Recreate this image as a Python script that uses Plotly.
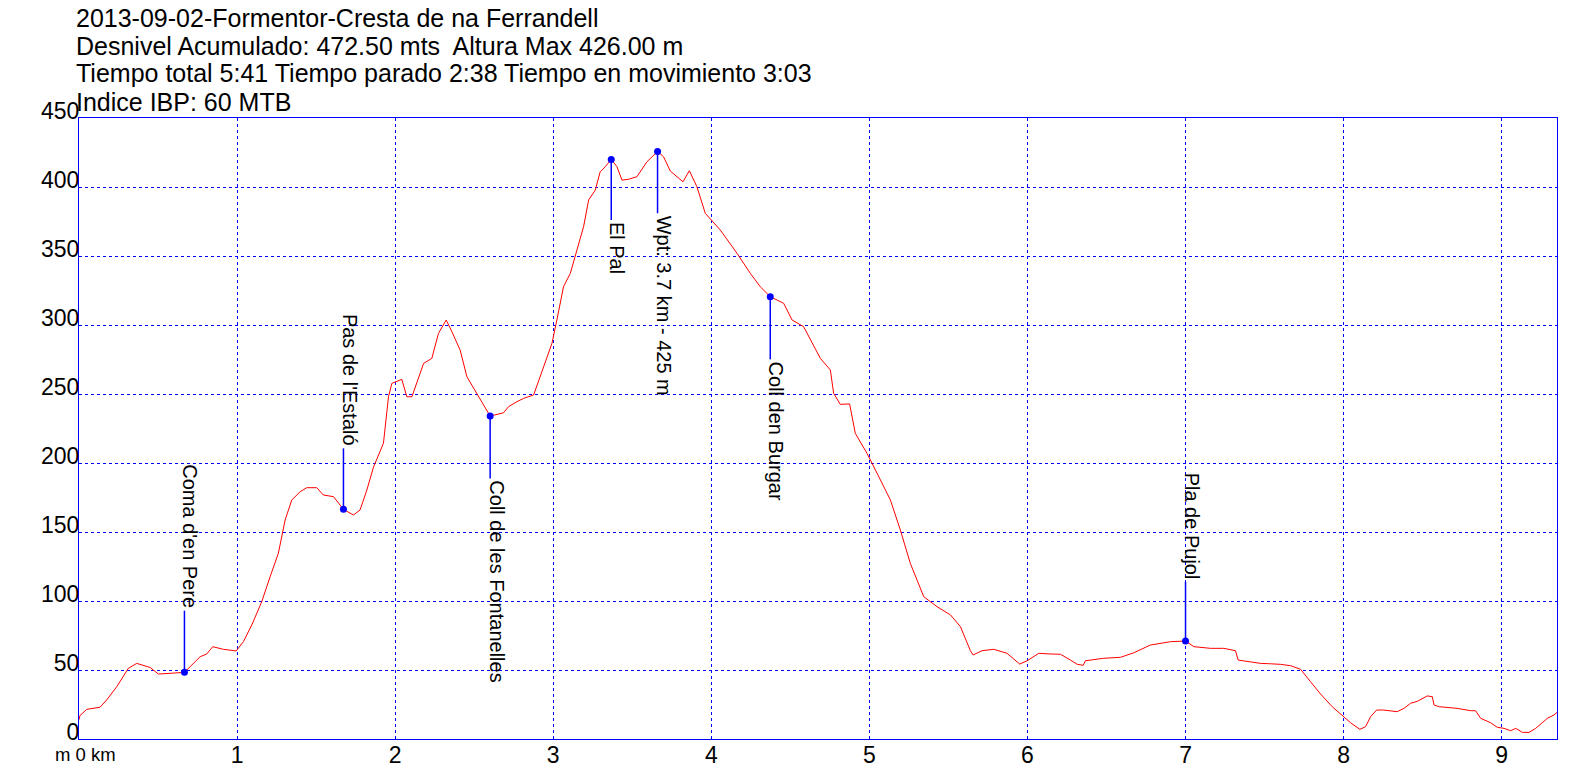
import plotly.graph_objects as go

# Profile data (distance in km, elevation in m)
dist_km = [0.0, 0.006, 0.049, 0.133, 0.175, 0.239, 0.312, 0.365, 0.449, 0.502, 0.576, 0.667,
           0.766, 0.808, 0.846, 0.913, 0.994, 1.04, 1.093, 1.156, 1.209, 1.261, 1.304, 1.346,
           1.399, 1.441, 1.504, 1.546, 1.61, 1.673, 1.736, 1.778, 1.821, 1.863, 1.926, 1.958,
           1.979, 2.042, 2.074, 2.106, 2.18, 2.232, 2.274, 2.323, 2.359, 2.411, 2.454, 2.517,
           2.559, 2.601, 2.686, 2.717, 2.77, 2.812, 2.876, 2.939, 2.992, 3.023, 3.065, 3.108,
           3.15, 3.192, 3.224, 3.266, 3.297, 3.329, 3.367, 3.403, 3.435, 3.477, 3.53, 3.593,
           3.66, 3.698, 3.741, 3.821, 3.861, 3.909, 3.962, 4.057, 4.163, 4.247, 4.31, 4.373,
           4.458, 4.511, 4.584, 4.648, 4.69, 4.753, 4.774, 4.816, 4.875, 4.911, 4.985, 5.07,
           5.133, 5.196, 5.259, 5.344, 5.428, 5.513, 5.576, 5.639, 5.656, 5.713, 5.787, 5.871,
           5.951, 5.998, 6.072, 6.146, 6.209, 6.272, 6.315, 6.353, 6.367, 6.483, 6.589, 6.673,
           6.778, 6.905, 7.0, 7.053, 7.158, 7.242, 7.316, 7.333, 7.411, 7.475, 7.538, 7.601,
           7.665, 7.728, 7.791, 7.854, 7.928, 7.991, 8.044, 8.103, 8.139, 8.171, 8.209, 8.251,
           8.339, 8.382, 8.424, 8.466, 8.529, 8.561, 8.572, 8.606, 8.719, 8.804, 8.835, 8.867,
           8.93, 8.972, 9.015, 9.057, 9.089, 9.131, 9.173, 9.215, 9.289, 9.331, 9.35]
elev_m = [14, 17, 21.5, 23, 28.3, 37.9, 51.2, 54.8, 51.9, 47.1, 47.6, 48.3,
          59.6, 61.6, 66.9, 65, 63.8, 70.5, 82.6, 99.5, 117.6, 134.5, 158.7, 173.2,
          179.2, 182.1, 182.1, 176.8, 175.6, 166.4, 162.3, 165.9, 180.4, 197, 214.3, 248,
          257.7, 260.6, 248, 248, 272.2, 275.8, 293.9, 303.6, 295.1, 281.9, 262.5, 250.5,
          242, 234, 236.4, 240.8, 244.4, 246.8, 249.3, 269.8, 286.7, 303.6, 327.7, 337.4,
          354.3, 371.2, 390.6, 397.8, 411, 414.7, 420, 414.7, 405, 405.6, 407.5, 418.3,
          425.8, 421.9, 411.5, 403.8, 411.8, 400.2, 380.9, 368.8, 351.9, 337.4, 327.7, 320.5,
          315.7, 303.6, 298.8, 284.3, 275.8, 267.4, 250.5, 242.5, 242.8, 221.5, 207, 187.7,
          173.2, 151.4, 127.3, 103.1, 95.9, 89.9, 81.4, 64, 60.9, 64, 65, 62.1,
          54.3, 56.7, 62.1, 61.6, 61.4, 57.2, 54.1, 53.4, 56.7, 58.5, 59.2, 62.5,
          68.1, 70.5, 71, 66.9, 65.7, 65.7, 64, 57.2, 56, 54.8, 54.5, 54.1,
          53.1, 50.5, 41.5, 32.6, 23.4, 16.7, 11.8, 7, 8.9, 16.2, 21, 21,
          19.8, 22.2, 25.9, 27.3, 31.2, 30.7, 24.6, 23.4, 22.2, 20.5, 20.5, 15,
          11.8, 8.5, 7.7, 6, 7.7, 4.8, 4.8, 7.7, 15, 17.4, 19.3]

# Waypoints
wp_names = ["Coma d'en Pere", "Pas de l'Estaló", "Coll de les Fontanelles", "El Pal",
            "Wpt: 3.7 km - 425 m", "Coll den Burgar", "Pla de Pujol"]
wp_km = [0.667, 1.673, 2.601, 3.367, 3.66, 4.373, 7.0]
wp_elev = [48.3, 166.4, 234, 420, 425.8, 320.5, 71]
wp_label_elev = [93, 210.6, 188.8, 376, 381, 275.1, 114]

title_lines = ["2013-09-02-Formentor-Cresta de na Ferrandell",
               "Desnivel Acumulado: 472.50 mts  Altura Max 426.00 m",
               "Tiempo total 5:41 Tiempo parado 2:38 Tiempo en movimiento 3:03",
               "Indice IBP: 60 MTB"]

y_ticks = [0, 50, 100, 150, 200, 250, 300, 350, 400, 450]
x_ticks = [1, 2, 3, 4, 5, 6, 7, 8, 9]

FONT = "Liberation Sans, Arial, sans-serif"
BLUE = "#0000FF"

fig = go.Figure()

fig.add_trace(go.Scatter(x=dist_km, y=elev_m, mode="lines",
                         line=dict(color="#FF0000", width=1), hoverinfo="skip"))

for k, e, le in zip(wp_km, wp_elev, wp_label_elev):
    fig.add_trace(go.Scatter(x=[k, k], y=[e, le], mode="lines",
                             line=dict(color=BLUE, width=1.5), hoverinfo="skip"))

fig.add_trace(go.Scatter(x=wp_km, y=wp_elev, mode="markers",
                         marker=dict(color=BLUE, size=7), hoverinfo="skip"))

annotations = []
for name, k, e, le in zip(wp_names, wp_km, wp_elev, wp_label_elev):
    up = le > e
    annotations.append(dict(
        x=k, y=le, xref="x", yref="y", text=name, showarrow=False,
        textangle=90, xanchor="center", yanchor="bottom" if up else "top",
        xshift=6, font=dict(family=FONT, size=20, color="black")))

# plot area: 621 px tall, bottom at page y 739
title_y_px = [18, 45.8, 73.3, 101.8]
for line, ypx in zip(title_lines, title_y_px):
    annotations.append(dict(
        x=0, y=(739 - ypx) / 621, xref="paper", yref="paper", text=line,
        showarrow=False, xanchor="left", yanchor="middle", xshift=-4, borderpad=0,
        font=dict(family=FONT, size=25, color="black")))

annotations.append(dict(
    x=0, y=(739 - 755) / 621, xref="paper", yref="paper", text="m 0 km",
    showarrow=False, xanchor="left", yanchor="middle", xshift=-26,
    font=dict(family=FONT, size=18.5, color="black")))

# The page body adds an 8 px offset; the figure is sized so the page is 1596x778.
fig.update_layout(
    width=1580, height=762,
    margin=dict(l=71, r=31, t=110, b=31, autoexpand=False),
    plot_bgcolor="white", paper_bgcolor="white",
    showlegend=False,
    annotations=annotations,
    xaxis=dict(range=[0, 9.35], tickvals=x_ticks, ticktext=[str(v) for v in x_ticks],
               showgrid=True, gridcolor=BLUE, gridwidth=1, griddash="3px,3px",
               showline=True, linecolor=BLUE, linewidth=1, mirror=True,
               zeroline=False, ticks="", automargin=False, ticklabelstandoff=-5,
               tickfont=dict(family=FONT, size=23, color="black")),
    yaxis=dict(range=[0, 450], tickvals=y_ticks, ticktext=[str(v) for v in y_ticks],
               showgrid=True, gridcolor=BLUE, gridwidth=1, griddash="3px,3px",
               showline=True, linecolor=BLUE, linewidth=1, mirror=True,
               zeroline=False, ticks="", ticklabelshift=-7, ticklabelstandoff=-6,
               automargin=False,
               tickfont=dict(family=FONT, size=23, color="black")),
)

fig.write_html("out.html")
